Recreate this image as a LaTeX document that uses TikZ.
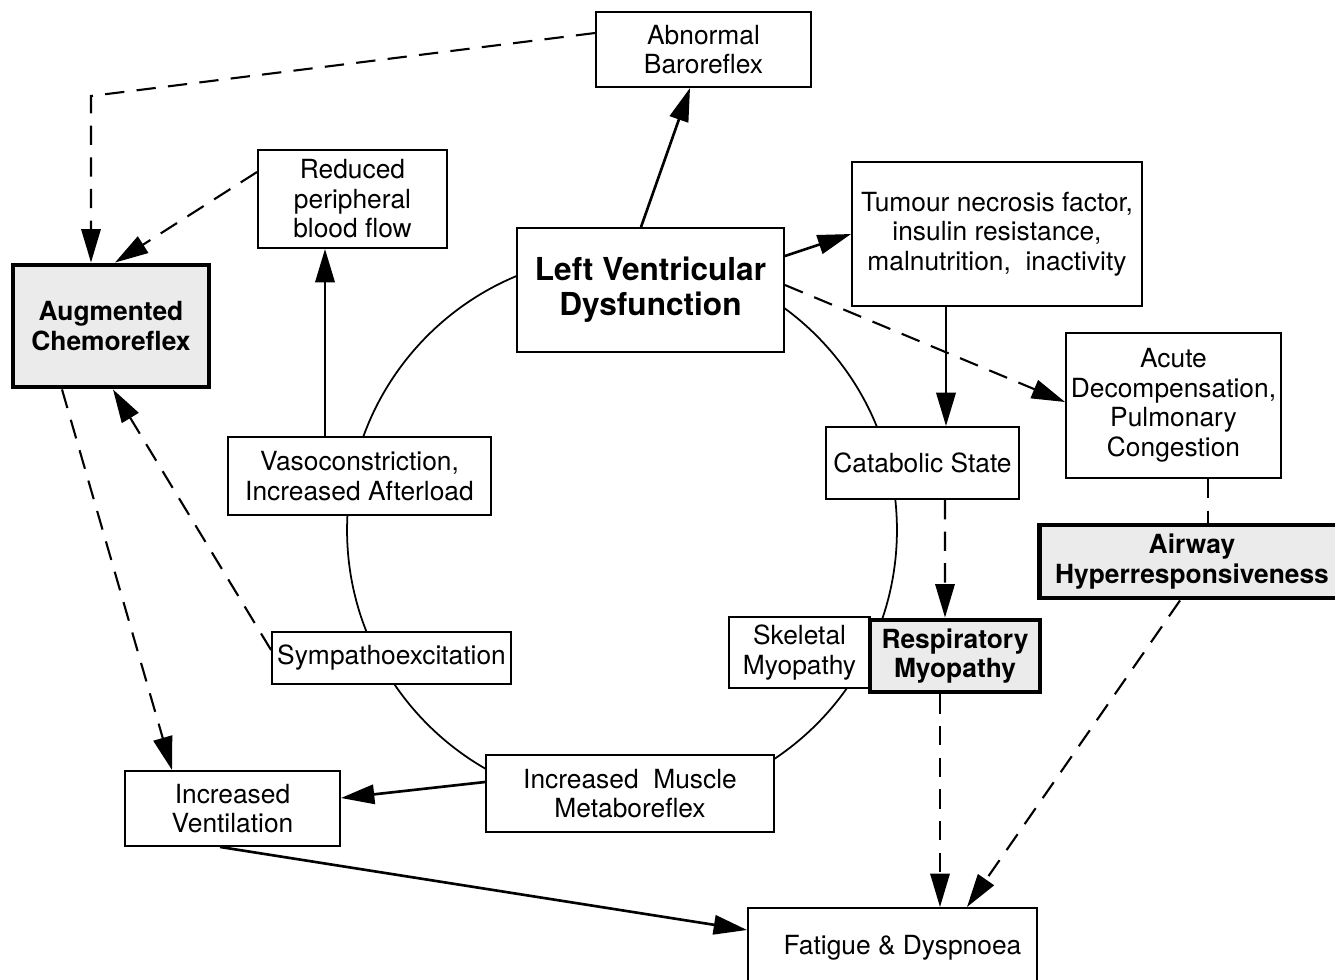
\documentclass[tikz,border=0pt]{standalone}
\usepackage{fontspec}
\setmainfont{TeX Gyre Heros}
\usetikzlibrary{positioning, arrows.meta}

\begin{document}
\begin{tikzpicture}
    [x=0.02cm, y=-0.02cm,
     box/.style={draw, line width=1.1pt, fill=white, align=center, inner sep=2pt,
                 font=\fontsize{15}{16.8}\selectfont},
     hot/.style={box, line width=2.8pt, fill=black!8,
                 font=\fontsize{15}{16.8}\selectfont\bfseries},
     arr/.style={draw=black, line width=1.5pt, -{Triangle[length=19pt, width=11pt]}},
     darr/.style={arr, line width=1.2pt, dash pattern=on 11pt off 7pt},
     dline/.style={draw=black, line width=1.2pt, dash pattern=on 11pt off 7pt},
    ]
    \useasboundingbox (0,0) rectangle (1335,980);

    % the vicious circle behind the boxes
    \draw [line width=1pt] (622,530) circle [radius=5.5cm];

    \node (lvd) [box, minimum width=5.34cm, minimum height=2.48cm,
                 font=\fontsize{18}{20}\selectfont\bfseries] at (650.5,290)
        {Left Ventricular\\Dysfunction};
    \node (baro) [box, minimum width=4.3cm, minimum height=1.5cm] at (703.5,49.5)
        {Abnormal\\Baroreflex};
    \node (reduced) [box, minimum width=3.78cm, minimum height=1.96cm] at (352.5,199)
        {Reduced\\peripheral\\blood flow};
    \node (chemo) [hot, minimum width=3.92cm, minimum height=2.44cm] at (111,326)
        {Augmented\\Chemoreflex};
    \node (tnf) [box, minimum width=5.8cm, minimum height=2.88cm] at (997,234)
        {Tumour necrosis factor,\\insulin resistance,\\malnutrition,\ \ inactivity};
    \node (acute) [box, minimum width=4.3cm, minimum height=2.9cm] at (1173.5,405.5)
        {Acute\\Decompensation,\\Pulmonary\\Congestion};
    \node (catab) [box, minimum width=3.86cm, minimum height=1.44cm] at (922.5,463)
        {Catabolic State};
    \node (airway) [hot, minimum width=6.1cm, minimum height=1.46cm] at (1192,561.5)
        {Airway\\Hyperresponsiveness};
    \node (vaso) [box, minimum width=5.26cm, minimum height=1.56cm] at (359.5,476)
        {Vasoconstriction,\\Increased Afterload};
    \node (symp) [box, minimum width=4.78cm, minimum height=1.04cm] at (391.5,658)
        {Sympathoexcitation};
    \node (vent) [box, minimum width=4.3cm, minimum height=1.5cm] at (232.5,808.5)
        {Increased\\Ventilation};
    \node (meta) [box, minimum width=5.76cm, minimum height=1.54cm] at (630,793.5)
        {Increased\ \ Muscle\\Metaboreflex};
    \node (skel) [box, minimum width=2.82cm, minimum height=1.42cm] at (799.5,652.5)
        {Skeletal\\Myopathy};
    \node (resp) [hot, minimum width=3.4cm, minimum height=1.44cm] at (955,656)
        {Respiratory\\Myopathy};
    \node (fatigue) [box, minimum width=5.78cm, minimum height=1.48cm,
                     text depth=-0.1cm, inner xsep=0.2cm, align=right] at (892.5,945)
        {\hspace*{0.4cm}Fatigue \& Dyspnoea};

    \coordinate (corner) at (91,96);

    \draw [arr] ([xshift=-0.19cm]lvd.north) -- ([xshift=-0.27cm]baro.south);
    \draw [arr] ([yshift=0.68cm]lvd.east) -- (tnf.west);
    \draw [darr] ([yshift=0.1cm]lvd.east) -- ([yshift=0.07cm]acute.west);

    \draw [arr] ([xshift=0.47cm]catab.north |- tnf.south) -- ([xshift=0.47cm]catab.north);
    \draw [darr] ([xshift=0.45cm]catab.south) -- ([xshift=-0.2cm]resp.north);
    \draw [dline] ([xshift=0.69cm]acute.south) -- ([xshift=0.69cm]acute.south |- airway.north);
    \draw [darr] ([xshift=-0.24cm]airway.south) -- ([xshift=1.49cm]fatigue.north);
    \draw [darr] ([xshift=-0.3cm]resp.south) -- ([xshift=-0.3cm]resp.south |- fatigue.north);

    \draw [darr] ([yshift=0.33cm]baro.west) -- (corner) -- (corner |- chemo.north);
    \draw [darr] ([yshift=0.54cm]reduced.west) -- ([xshift=0.08cm]chemo.north);
    \draw [darr] ([yshift=0.16cm]symp.west) -- ([xshift=0.04cm]chemo.south);
    \draw [darr] ([xshift=-0.98cm]chemo.south) -- ([xshift=-1.21cm]vent.north);

    \draw [arr] ([xshift=-0.69cm]vaso.north) -- ([xshift=-0.69cm]vaso.north |- reduced.south);
    \draw [arr] ([yshift=0.23cm]meta.west) -- ([yshift=0.21cm]vent.east);
    \draw [arr] ([xshift=-0.25cm]vent.south) -- ([yshift=0.3cm]fatigue.west);

\end{tikzpicture}
\end{document}
